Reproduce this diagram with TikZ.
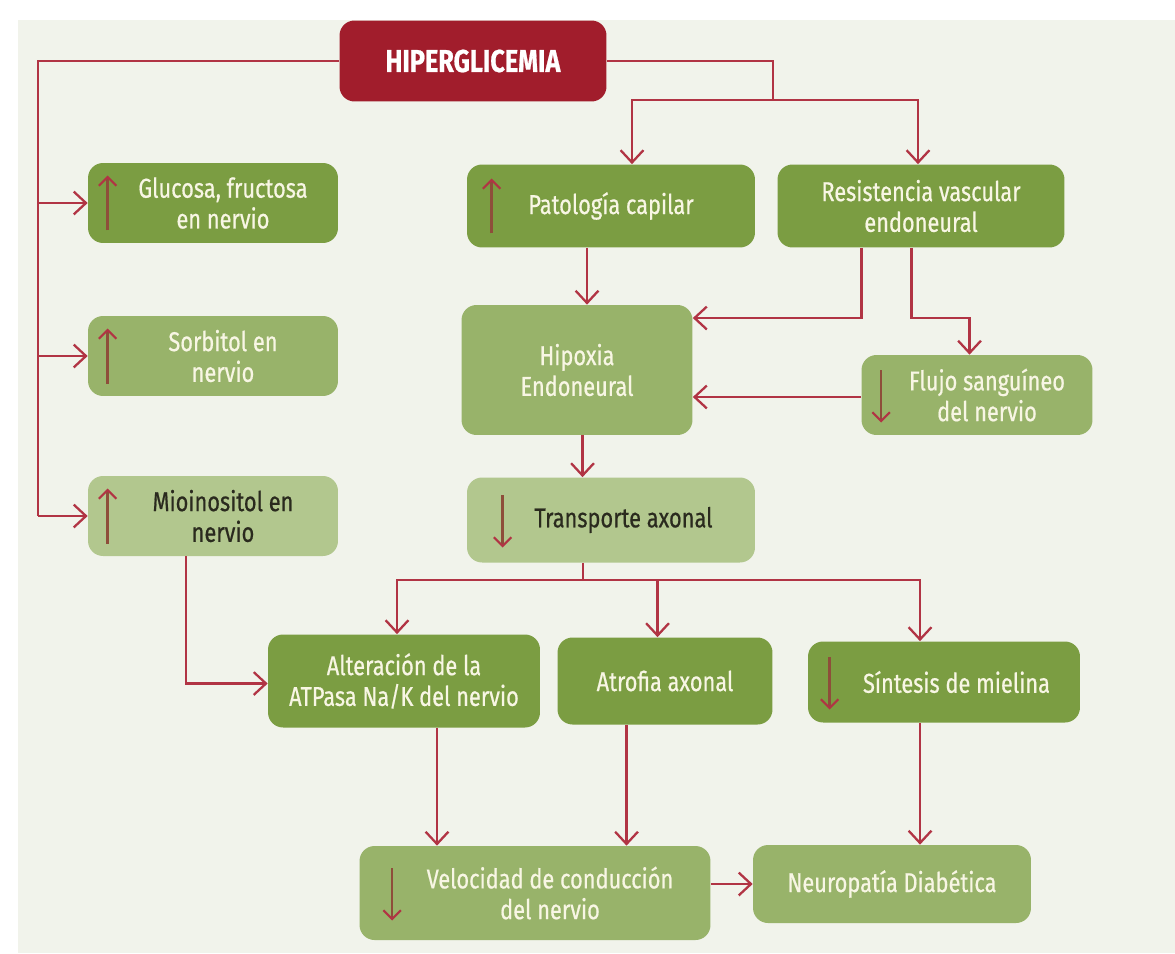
\documentclass[tikz,border=0pt]{standalone}
\usepackage{fontspec}
\setmainfont{Fira Sans}[FakeStretch=0.8, FakeBold=0.6]
\usepackage{tikz}
\usetikzlibrary{arrows.meta}

\definecolor{bgpaper}{HTML}{F1F3EB}
\definecolor{hipred}{HTML}{A11D2C}
\definecolor{linkred}{HTML}{B13444}
\definecolor{gdark}{HTML}{7B9D42}
\definecolor{gmid}{HTML}{98B36A}
\definecolor{glight}{HTML}{B2C78E}
\definecolor{cream}{HTML}{F8F6E4}
\definecolor{ink}{HTML}{2A2A1E}
\definecolor{markbrown}{HTML}{8E4E3A}

\tikzset{
  box/.style={rounded corners=0.3cm, align=center, inner sep=2pt,
    font=\fontsize{15.5}{17.5}\selectfont},
  darkbox/.style={box, fill=gdark, text=cream},
  midbox/.style={box, fill=gmid, text=cream},
  lightbox/.style={box, fill=glight, text=ink},
  link/.style={draw=linkred, line width=1.3pt,
    -{Straight Barb[length=7pt,width=13pt,line width=1.3pt]}},
  trunk/.style={draw=linkred, line width=1.3pt},
  upmark/.style={draw=markbrown, line width=1.4pt,
    -{Straight Barb[length=5pt,width=10pt,line width=1.2pt,color=linkred]}}
}

\begin{document}
\begin{tikzpicture}[x=0.02cm, y=-0.02cm]
\fill[white] (0,0) rectangle (1175,953);
\fill[bgpaper] (18,20) rectangle (1175,953);

% top
\node[box, fill=hipred, text=white, minimum width=5.34cm, minimum height=1.62cm,
  font=\fontsize{18}{20}\selectfont\bfseries] (hip) at (473,61) {HIPERGLICEMIA};

% left column
\node[darkbox, minimum width=5cm, minimum height=1.6cm] (glu) at (213,203)
  {\hspace*{0.4cm}Glucosa, fructosa\\\hspace*{0.4cm}en nervio};
\node[midbox, minimum width=5cm, minimum height=1.6cm] (sor) at (213,356)
  {\hspace*{0.4cm}Sorbitol en\\\hspace*{0.4cm}nervio};
\node[lightbox, minimum width=5cm, minimum height=1.6cm] (mio) at (213,516)
  {\hspace*{0.4cm}Mioinositol en\\\hspace*{0.4cm}nervio};

% middle and right
\node[darkbox, minimum width=5.76cm, minimum height=1.66cm] (pat) at (611,206)
  {Patología capilar};
\node[darkbox, minimum width=5.74cm, minimum height=1.66cm] (res) at (921,206)
  {Resistencia vascular\\endoneural};
\node[midbox, minimum width=4.62cm, minimum height=2.6cm] (hipox) at (577,370)
  {Hipoxia\\Endoneural};
\node[midbox, minimum width=4.62cm, minimum height=1.6cm] (flujo) at (977,395)
  {\hspace*{0.4cm}Flujo sanguíneo\\\hspace*{0.4cm}del nervio};
\node[lightbox, minimum width=5.76cm, minimum height=1.7cm] (trans) at (611,520)
  {\hspace*{0.5cm}Transporte axonal};

% effects
\node[darkbox, minimum width=5.44cm, minimum height=1.86cm] (alt) at (404,681)
  {Alteración de la\\ATPasa Na/K del nervio};
\node[darkbox, minimum width=4.3cm, minimum height=1.74cm] (atr) at (665,681)
  {Atrofia axonal};
\node[darkbox, minimum width=5.44cm, minimum height=1.62cm] (sin) at (944,682)
  {\hspace*{0.5cm}Síntesis de mielina};
\node[midbox, minimum width=7.02cm, minimum height=1.88cm] (vel) at (535,893)
  {\hspace*{0.6cm}Velocidad de conducción\\\hspace*{0.6cm}del nervio};
\node[midbox, minimum width=5.56cm, minimum height=1.56cm] (neu) at (892,884)
  {Neuropatía Diabética};

% up and down marks inside the boxes
\foreach \n/\dx in {glu/0.4, sor/0.4, mio/0.4, pat/0.5}
  \draw[upmark] ([xshift=\dx cm, yshift=-0.55cm]\n.west) -- ++(0,1.1cm);
\foreach \n/\dx in {flujo/0.4, trans/0.72, sin/0.44, vel/0.66}
  \draw[upmark] ([xshift=\dx cm, yshift=0.5cm]\n.west) -- ++(0,-1.05cm);

% connectors
\coordinate (left) at (38,61);
\coordinate (split) at (773,100);
\coordinate (fork) at (583,580);

\draw[trunk] (hip.west) -- (left) -- (left |- mio.west);
\foreach \n in {glu, sor, mio}
  \draw[link] (left |- \n.west) -- (\n.west);

\draw[trunk] (hip.east) -| (split);
\draw[link] (split) -| ([xshift=0.42cm]pat.north);
\draw[link] (split) -| ([xshift=-0.06cm]res.north);

\draw[link] ([xshift=-0.48cm]pat.south) -- ([xshift=-0.48cm]pat.south |- hipox.north);
\draw[link] ([xshift=-1.19cm]res.south) |- ([yshift=1.04cm]hipox.east);
\draw[link] ([xshift=-0.19cm]res.south) -- ++(0,70) -| ([xshift=-0.15cm]flujo.north);
\draw[link] ([yshift=-0.04cm]flujo.west) -- ([yshift=-0.04cm]flujo.west -| hipox.east);

\draw[link] ([xshift=0.11cm]hipox.south) -- ([xshift=0.11cm]hipox.south |- trans.north);
\draw[trunk] (fork |- trans.south) -- (fork);
\draw[link] (fork) -| ([xshift=-0.14cm]alt.north);
\draw[link] (fork) -| ([xshift=-0.15cm]atr.north);
\draw[link] (fork) -| ([xshift=-0.48cm]sin.north);

\draw[link] ([xshift=-0.54cm]mio.south) |- ([yshift=-0.05cm]alt.west);

\draw[link] ([xshift=0.66cm]alt.south) -- ([xshift=0.66cm]alt.south |- vel.north);
\draw[link] ([xshift=-0.77cm]atr.south) -- ([xshift=-0.77cm]atr.south |- vel.north);
\draw[link] ([xshift=-0.48cm]sin.south) -- ([xshift=-0.48cm]sin.south |- neu.north);
\draw[link] (vel.east |- neu.west) -- (neu.west);
\end{tikzpicture}
\end{document}
